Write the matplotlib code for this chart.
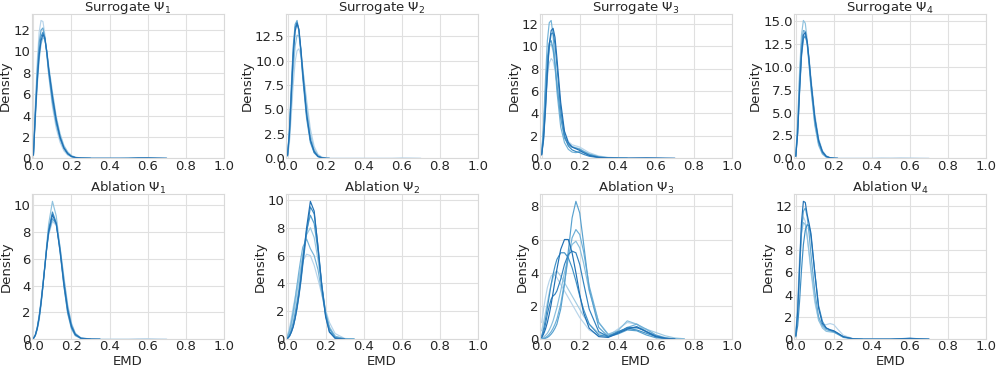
import matplotlib
matplotlib.use("Agg")
import matplotlib.pyplot as plt
from matplotlib.ticker import MultipleLocator
import seaborn as sns

X = [0.00, 0.01, 0.02, 0.03, 0.04, 0.05, 0.06, 0.07, 0.08, 0.10, 0.12, 0.14,
     0.16, 0.18, 0.20, 0.22, 0.25, 0.30, 0.35, 0.40, 0.45, 0.50, 0.55, 0.60,
     0.65, 0.70, 0.75]

TITLES = ["Surrogate $\\Psi_1$", "Surrogate $\\Psi_2$", "Surrogate $\\Psi_3$", "Surrogate $\\Psi_4$",
          "Ablation $\\Psi_1$", "Ablation $\\Psi_2$", "Ablation $\\Psi_3$", "Ablation $\\Psi_4$"]

# one list of runs per panel, ordered light -> dark; values end where the curve hits zero
surrogate_1 = [
    [0.4, 5.0, 9.0, 11.8, 12.9, 12.8, 11.6, 9.8, 7.8, 4.8, 2.8, 1.5, 0.7, 0.3, 0.12, 0.05, 0.01, 0],
    [0.3, 3.6, 6.8, 9.2, 10.7, 11.3, 11.1, 10.1, 8.7, 6.2, 3.9, 2.3, 1.2, 0.6, 0.25, 0.1, 0.03, 0],
    [0.3, 4.5, 8.2, 10.8, 12.0, 12.2, 11.3, 9.8, 8.0, 5.2, 3.2, 1.8, 0.9, 0.4, 0.15, 0.06, 0.02, 0, 0, 0, 0, 0.02, 0.05, 0.04, 0.01, 0],
    [0.3, 4.2, 7.6, 10.0, 11.4, 11.8, 11.3, 10.0, 8.3, 5.5, 3.4, 1.9, 0.95, 0.42, 0.17, 0.07, 0.02, 0],
    [0.3, 4.0, 7.2, 9.6, 11.0, 11.6, 11.2, 10.0, 8.4, 5.8, 3.6, 2.0, 1.0, 0.45, 0.18, 0.07, 0.02, 0, 0, 0, 0, 0, 0.03, 0.04, 0.02, 0],
]
surrogate_2 = [
    [0.2, 1.6, 4.5, 7.6, 9.9, 11.0, 11.2, 10.5, 9.2, 6.0, 3.0, 1.2, 0.4, 0.12, 0.03, 0, 0, 0, 0, 0, 0, 0, 0, 0.03, 0.02, 0],
    [0.2, 2.0, 5.5, 9.0, 11.5, 12.6, 12.5, 11.2, 9.2, 5.4, 2.4, 0.9, 0.3, 0.08, 0.02, 0],
    [0.3, 3.0, 7.5, 11.5, 13.7, 14.1, 13.0, 10.8, 8.2, 4.1, 1.6, 0.55, 0.15, 0.04, 0],
    [0.3, 2.8, 7.0, 11.0, 13.4, 13.9, 13.0, 11.0, 8.5, 4.4, 1.8, 0.6, 0.18, 0.05, 0],
    [0.3, 2.5, 6.5, 10.5, 13.0, 13.8, 13.2, 11.2, 8.8, 4.6, 1.9, 0.7, 0.2, 0.05, 0.01, 0],
]
surrogate_3 = [
    [0.4, 2.0, 4.8, 7.2, 8.5, 8.9, 8.7, 7.9, 6.7, 4.2, 2.4, 1.5, 1.2, 1.1, 1.0, 0.8, 0.5, 0.2, 0.08, 0.04, 0.03, 0.04, 0.05, 0.04, 0.02, 0],
    [0.4, 2.3, 5.6, 8.5, 10.0, 10.2, 9.6, 8.3, 6.7, 3.8, 2.0, 1.3, 1.05, 0.95, 0.85, 0.65, 0.4, 0.15, 0.05, 0.02, 0],
    [0.5, 3.0, 7.0, 10.5, 12.1, 12.3, 11.0, 8.5, 6.0, 2.8, 1.4, 0.8, 0.55, 0.5, 0.6, 0.55, 0.3, 0.1, 0.03, 0.01, 0],
    [0.4, 2.5, 6.0, 9.0, 10.3, 10.5, 9.8, 8.4, 6.6, 3.6, 1.8, 1.2, 1.0, 0.9, 0.8, 0.6, 0.35, 0.12, 0.04, 0.02, 0],
    [0.3, 1.6, 4.2, 7.5, 10.0, 11.1, 11.2, 10.2, 8.3, 4.4, 2.0, 1.1, 0.75, 0.6, 0.5, 0.35, 0.18, 0.05, 0.02, 0],
    [0.3, 1.8, 4.5, 7.8, 10.2, 11.4, 11.6, 10.8, 9.0, 5.0, 2.4, 1.4, 1.0, 0.85, 0.7, 0.5, 0.25, 0.08, 0.03, 0.02, 0.02, 0.03, 0.04, 0.03, 0.01, 0],
]
surrogate_4 = [
    [0.3, 3.0, 7.6, 11.3, 13.2, 13.6, 12.8, 11.0, 8.8, 4.9, 2.2, 0.85, 0.28, 0.07, 0.02, 0, 0, 0, 0, 0, 0.03, 0.02, 0.04, 0.03, 0.01, 0],
    [0.3, 4.0, 9.5, 13.5, 15.1, 14.8, 13.0, 10.3, 7.6, 3.6, 1.4, 0.45, 0.12, 0.03, 0],
    [0.3, 3.5, 8.6, 12.5, 14.0, 13.9, 12.5, 10.2, 7.8, 3.9, 1.6, 0.55, 0.15, 0.04, 0],
    [0.2, 2.7, 7.2, 11.1, 13.1, 13.4, 12.6, 10.7, 8.4, 4.5, 2.0, 0.75, 0.22, 0.06, 0.01, 0],
    [0.2, 2.8, 7.5, 11.5, 13.5, 13.8, 12.8, 10.8, 8.4, 4.4, 1.9, 0.7, 0.2, 0.05, 0.01, 0],
]
ablation_1 = [
    [0.06, 0.35, 0.9, 1.8, 2.9, 4.2, 5.5, 6.8, 7.8, 8.8, 8.5, 6.9, 4.7, 2.6, 1.2, 0.45, 0.09, 0.01, 0, 0, 0, 0, 0.02, 0.03, 0.01, 0],
    [0.05, 0.25, 0.7, 1.4, 2.5, 3.9, 5.5, 7.1, 8.6, 10.3, 9.2, 6.8, 4.0, 1.9, 0.75, 0.25, 0.04, 0],
    [0.05, 0.3, 0.85, 1.7, 2.8, 4.1, 5.5, 6.8, 7.9, 9.0, 8.6, 6.8, 4.5, 2.4, 1.1, 0.4, 0.08, 0.01, 0],
    [0.05, 0.28, 0.8, 1.6, 2.7, 4.0, 5.4, 6.9, 8.2, 9.5, 8.7, 6.5, 4.0, 2.0, 0.85, 0.3, 0.05, 0],
    [0.05, 0.3, 0.8, 1.6, 2.7, 4.0, 5.4, 6.8, 8.0, 9.3, 8.6, 6.6, 4.2, 2.2, 0.95, 0.35, 0.06, 0.01, 0],
]
ablation_2 = [
    [0.3, 0.8, 1.5, 2.3, 3.0, 3.8, 4.5, 5.1, 5.6, 6.1, 6.0, 5.3, 4.3, 3.2, 2.1, 1.2, 0.4, 0.05, 0],
    [0.15, 0.5, 1.0, 1.7, 2.5, 3.4, 4.3, 5.2, 6.1, 7.5, 8.0, 7.3, 5.7, 3.7, 2.0, 0.9, 0.2, 0.02, 0],
    [0.2, 0.6, 1.2, 2.0, 2.9, 3.9, 4.9, 5.8, 6.6, 7.2, 6.5, 6.0, 5.0, 3.3, 1.8, 0.8, 0.2, 0.02, 0],
    [0.1, 0.3, 0.7, 1.2, 1.9, 2.7, 3.6, 4.7, 5.8, 7.8, 8.9, 8.3, 6.3, 3.9, 1.9, 0.75, 0.12, 0.01, 0],
    [0.05, 0.2, 0.5, 0.9, 1.5, 2.2, 3.1, 4.1, 5.3, 7.6, 9.5, 9.0, 6.7, 3.9, 1.7, 0.55, 0.07, 0],
    [0.05, 0.2, 0.5, 0.9, 1.5, 2.3, 3.2, 4.3, 5.5, 8.0, 9.9, 9.2, 6.6, 3.8, 1.6, 0.5, 0.06, 0],
]
ablation_3 = [
    [1.0, 1.8, 2.5, 3.1, 3.5, 3.8, 3.9, 3.85, 3.7, 3.3, 2.9, 2.5, 2.1, 1.7, 1.3, 1.0, 0.55, 0.2, 0.2, 0.6, 1.0, 0.9, 0.55, 0.25, 0.1, 0.03, 0],
    [0.5, 1.0, 1.6, 2.2, 2.8, 3.3, 3.7, 4.0, 4.1, 3.8, 3.4, 3.0, 2.6, 2.2, 1.8, 1.4, 0.9, 0.35, 0.2, 0.45, 0.6, 0.65, 0.6, 0.4, 0.2, 0.07, 0.02],
    [0.05, 0.12, 0.22, 0.35, 0.55, 0.8, 1.1, 1.5, 1.9, 2.9, 4.0, 5.0, 5.7, 5.9, 5.5, 4.6, 2.9, 1.0, 0.3, 0.5, 1.1, 0.9, 0.45, 0.15, 0.04, 0],
    [0.02, 0.05, 0.1, 0.18, 0.3, 0.45, 0.65, 0.9, 1.2, 2.1, 3.4, 4.9, 6.1, 6.6, 6.3, 5.3, 3.2, 1.0, 0.25, 0.35, 0.7, 0.9, 0.6, 0.25, 0.07, 0.02, 0],
    [0.0, 0.02, 0.05, 0.1, 0.18, 0.3, 0.45, 0.65, 0.9, 1.8, 3.3, 5.3, 7.3, 8.3, 7.6, 5.8, 3.0, 0.7, 0.15, 0.3, 0.55, 0.5, 0.25, 0.08, 0.02, 0],
    [0.2, 0.6, 1.2, 1.9, 2.6, 3.3, 3.9, 4.4, 4.8, 5.2, 5.2, 4.9, 4.3, 3.5, 2.6, 1.8, 0.9, 0.25, 0.15, 0.45, 0.65, 0.55, 0.35, 0.15, 0.05, 0],
    [0.1, 0.4, 0.9, 1.5, 2.0, 2.4, 2.6, 2.7, 2.9, 3.6, 4.5, 5.1, 5.3, 5.2, 4.5, 3.4, 1.8, 0.45, 0.15, 0.4, 0.7, 0.7, 0.45, 0.2, 0.05, 0],
    [0.1, 0.3, 0.6, 1.0, 1.5, 2.1, 2.8, 3.5, 4.2, 5.4, 6.0, 6.0, 5.2, 4.0, 2.7, 1.6, 0.65, 0.15, 0.1, 0.35, 0.6, 0.75, 0.45, 0.15, 0.04, 0],
]
ablation_4 = [
    [0.4, 3.2, 7.5, 10.3, 11.0, 10.6, 9.3, 7.6, 6.0, 3.3, 1.7, 1.3, 1.3, 1.4, 1.3, 0.9, 0.35, 0.05, 0, 0, 0, 0, 0.03, 0.05, 0.02, 0],
    [0.4, 2.8, 6.8, 9.5, 10.5, 10.3, 9.2, 7.8, 6.3, 3.6, 1.7, 1.0, 0.7, 0.65, 0.6, 0.45, 0.2, 0.03, 0],
    [0.3, 2.2, 6.0, 9.6, 11.5, 11.8, 11.0, 9.5, 7.6, 4.3, 2.0, 1.2, 0.85, 0.75, 0.65, 0.45, 0.15, 0.02, 0],
    [0.2, 1.2, 3.4, 6.2, 8.5, 9.8, 10.3, 10.2, 9.2, 6.0, 3.0, 1.6, 1.0, 0.8, 0.7, 0.5, 0.2, 0.03, 0, 0, 0, 0, 0.04, 0.08, 0.03, 0],
    [0.3, 2.5, 6.5, 10.5, 12.4, 12.3, 11.2, 10.4, 9.5, 6.0, 2.8, 1.4, 1.0, 0.85, 0.75, 0.55, 0.22, 0.03, 0, 0, 0, 0, 0.03, 0.06, 0.02, 0],
]

PANELS = [surrogate_1, surrogate_2, surrogate_3, surrogate_4,
          ablation_1, ablation_2, ablation_3, ablation_4]
Y_STEP = [2, 2.5, 2, 2.5, 2, 2, 2, 2]

sns.set_style("whitegrid", {"grid.color": ".88", "axes.edgecolor": ".85"})
plt.rcParams["font.family"] = ["DejaVu Sans"]
plt.rcParams["text.color"] = ".15"

fig, axes = plt.subplots(2, 4, figsize=(9.97, 3.67), dpi=100)
cmap = plt.get_cmap("Blues")

for i, (ax, runs) in enumerate(zip(axes.flat, PANELS)):
    n = len(runs)
    for k, ys in enumerate(runs):
        ax.plot(X[:len(ys)], ys, color=cmap(0.3 + 0.45 * k / max(n - 1, 1)), linewidth=0.85)
    ax.set_title(TITLES[i], fontsize=9.5, pad=2)
    ax.set_ylabel("Density", fontsize=9.5, labelpad=1)
    ax.set_xlim(-0.008, 1.0)
    ax.set_ylim(bottom=0)
    ax.yaxis.set_major_locator(MultipleLocator(Y_STEP[i]))
    ax.set_xticks([0.0, 0.2, 0.4, 0.6, 0.8, 1.0])
    ax.set_xticklabels(["0.0", "0.2", "0.4", "0.6", "0.8", "1.0"])
    ax.tick_params(labelsize=9.5, pad=1, length=0, colors=".15")
    ax.grid(True, linewidth=0.8)
    if i >= 4:
        ax.set_xlabel("EMD", fontsize=9.5, labelpad=1)

fig.subplots_adjust(left=0.032, right=0.989, bottom=0.076, top=0.963,
                    wspace=0.325, hspace=0.25)
fig.savefig("out.png", dpi=100)
plt.close(fig)
